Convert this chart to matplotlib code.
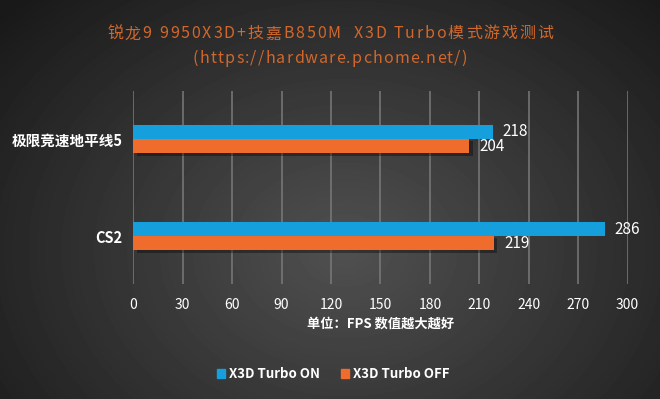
import numpy as np
import matplotlib
matplotlib.use('Agg')
import matplotlib.pyplot as plt
from matplotlib.patches import Patch

plt.rcParams['font.family'] = ['Noto Sans CJK SC', 'DejaVu Sans']

# data
games = ['极限竞速地平线5', 'CS2']
turbo_on = [218, 286]
turbo_off = [204, 219]
xticks = [0, 30, 60, 90, 120, 150, 180, 210, 240, 270, 300]
title1 = '锐龙9 9950X3D+技嘉B850M  X3D Turbo模式游戏测试'
title2 = '(https://hardware.pchome.net/)'

c_on = '#159fdd'
c_off = '#ef6c2c'
c_title = '#d2672b'

fig = plt.figure(figsize=(6.6, 3.99), dpi=100)

# radial background
bg = fig.add_axes([0, 0, 1, 1])
yy, xx = np.mgrid[0:399, 0:660]
r = np.sqrt(((xx - 345) / 420.0) ** 2 + ((yy - 250) / 330.0) ** 2)
shade = np.clip(0.315 - 0.2 * r, 0.1, 0.32)
bg.imshow(shade, cmap='gray', vmin=0, vmax=1, aspect='auto', extent=[0, 1, 0, 1])
bg.axis('off')

ax = fig.add_axes([0.202, 0.288, 0.749, 0.484])
ax.patch.set_alpha(0)
y = np.array([1, 0])
h = 0.145
ax.barh(y + h / 2, turbo_on, height=h, color=c_on, zorder=3)
ax.barh(y - h / 2, turbo_off, height=h, color=c_off, zorder=3)
# soft shadow under bars
ax.barh(y - h / 2 - 0.025, turbo_off, height=h, left=2, color='black', alpha=0.35, zorder=2)

for v, yy_ in zip(turbo_on, y + h / 2):
    ax.text(v + 6, yy_, str(v), color='white', fontsize=11, va='center', ha='left')
for v, yy_ in zip(turbo_off, y - h / 2):
    ax.text(v + 6, yy_, str(v), color='white', fontsize=11, va='center', ha='left')

ax.set_xlim(0, 300)
ax.set_ylim(-0.495, 1.495)
ax.set_xticks(xticks)
ax.set_xticklabels([str(t) for t in xticks], color='white', fontsize=10)
ax.set_yticks(y)
ax.set_yticklabels(games, color='white', fontsize=10.5, fontweight='bold')
ax.tick_params(length=0, pad=8)
ax.tick_params(axis='x', pad=10)
ax.grid(axis='x', color='#7a7a7a', linewidth=1.1, zorder=1)
for s in ax.spines.values():
    s.set_visible(False)
ax.set_xlabel('单位：FPS 数值越大越好', color='white', fontsize=9.5, fontweight='bold', labelpad=3)


def spaced_title(s, ypos, target_w, size=11.5):
    # letter-spaced title, centred on the figure
    rend = fig.canvas.get_renderer()
    widths = []
    for ch in s:
        t = fig.text(0, 0, ch, fontsize=size)
        widths.append(t.get_window_extent(rend).width)
        t.remove()
    gap = (target_w - sum(widths)) / (len(s) - 1)
    x = 330 - target_w / 2
    for ch, w in zip(s, widths):
        fig.text(x / 660, ypos, ch, color=c_title, fontsize=size, ha='left', va='center')
        x += w + gap


spaced_title(title1, 0.915, 446)
spaced_title(title2, 0.854, 274)

handles = [Patch(color=c_on, label='X3D Turbo ON'), Patch(color=c_off, label='X3D Turbo OFF')]
leg = fig.legend(handles=handles, loc='center', bbox_to_anchor=(0.505, 0.062), ncol=2, frameon=False,
                 handlelength=0.6, handleheight=0.6, handletextpad=0.3, columnspacing=1.6,
                 prop={'size': 9.5, 'weight': 'bold'})
for t in leg.get_texts():
    t.set_color('white')

fig.savefig('out.png', dpi=100)
